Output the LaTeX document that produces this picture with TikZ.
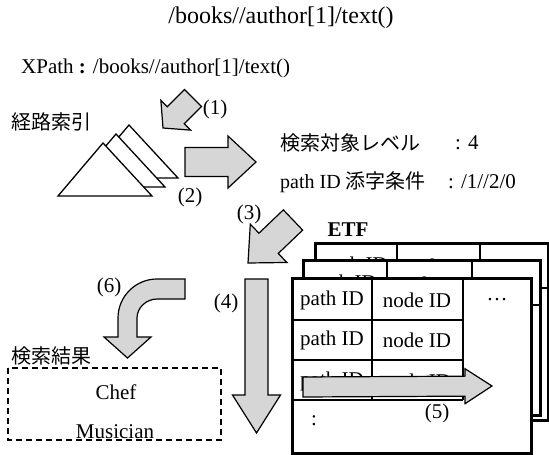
\documentclass[tikz,border=0pt]{standalone}
\usepackage{fontspec}
\setmainfont{Liberation Serif}
\newfontfamily\jp{Noto Sans CJK JP}
\usetikzlibrary{calc}

% block arrow: #1 tail centre, #2 tip, #3 half shaft width, #4 half head width, #5 head length
\newcommand\blockarrow[5]{%
  \coordinate (hb) at ($(#2)!#5!(#1)$);
  \path[blk] ($(#1)!#3!90:(#2)$) -- ($(hb)!#3!90:(#2)$) -- ($(hb)!#4!90:(#2)$)
    -- (#2) -- ($(hb)!#4!-90:(#2)$) -- ($(hb)!#3!-90:(#2)$) -- ($(#1)!#3!-90:(#2)$) -- cycle;
}

\begin{document}
\begin{tikzpicture}[x=1pt,y=-1pt,
  txt/.style={font=\fontsize{21}{24}\selectfont, inner sep=0pt},
  jtxt/.style={font=\fontsize{20}{24}\selectfont\jp, inner sep=0pt},
  blk/.style={draw=black, fill=black!16, line width=1.2pt, line join=miter},
  tri/.style={draw=black, fill=white, line width=1.3pt, line join=miter},
  frame/.style={draw=black, line width=3pt},
  grid/.style={draw=black, line width=1.3pt},
]
\useasboundingbox (0,0) rectangle (549,455);

% query text
\node[txt, font=\fontsize{24}{28}\selectfont] (title) at (281,18) {/books//author[1]/text()};
\node[txt, anchor=west] (xpath) at (21,68) {XPath \textbf{:} /books//author[1]/text()};

% path index: three stacked triangles
\path[tri] (129,125) -- (84,178) -- (178,178) -- cycle;
\path[tri] (116,134) -- (71,187) -- (165,187) -- cycle;
\path[tri] (103,143) -- (58,196) -- (152,196) -- cycle;
\node[jtxt] (pidx) at (51,122) {経路索引};

% arrow (1)
\coordinate (a1t) at (193,98);
\coordinate (a1h) at (163,128);
\blockarrow{a1t}{a1h}{12pt}{21pt}{18pt}
\node[txt] (l1) at (215,109) {(1)};

% arrow (2)
\coordinate (a2t) at (185,162);
\coordinate (a2h) at (256,162);
\blockarrow{a2t}{a2h}{14.5pt}{26pt}{28pt}
\node[txt] (l2) at (190,197) {(2)};

% search conditions
\node[jtxt, anchor=west] (lvl) at (280,143) {検索対象レベル};
\node[txt, anchor=west] (lvlv) at (455,143) {: 4};
\node[jtxt, anchor=west] (sub) at (280,182) {{\rmfamily path ID} 添字条件};
\node[txt, anchor=west] (subv) at (448,182) {: /1//2/0};

% arrow (3)
\coordinate (a3t) at (293,220);
\coordinate (a3h) at (248,263);
\blockarrow{a3t}{a3h}{14pt}{26.5pt}{28.5pt}
\node[txt] (l3) at (249,214) {(3)};

% arrow (4)
\coordinate (a4t) at (256.5,279);
\coordinate (a4h) at (256.5,433);
\blockarrow{a4t}{a4h}{11.5pt}{24pt}{38pt}
\node[txt] (l4) at (226,303) {(4)};

% ETF tables, back to front
\node[txt, font=\fontsize{21}{24}\selectfont\bfseries] (etf) at (348,230) {ETF};

\fill[white] (315,243) rectangle (548,420);
\draw[grid] (397,243) -- (397,288) (480,243) -- (480,288) (315,288) -- (548,288);
\node[txt] (p3) at (356,266) {path ID};
\node[txt] (n3) at (438,266) {node ID};
\draw[frame] (315,243) rectangle (548,420);

\fill[white] (303,260) rectangle (540,415);
\draw[grid] (387,260) -- (387,305) (472,260) -- (472,305) (303,305) -- (540,305);
\node[txt] (p2) at (345,284) {path ID};
\node[txt] (n2) at (430,284) {node ID};
\draw[frame] (303,260) rectangle (540,415);

\fill[white] (292,278) rectangle (531,453);
\draw[grid] (372,278) -- (372,400) (463,278) -- (463,400)
  (292,320) -- (463,320) (292,360) -- (463,360) (292,400) -- (463,400);
\node[txt] (p1a) at (332,300) {path ID};
\node[txt] (n1a) at (417,300) {node ID};
\node[txt] (d1a) at (497,300) {\ldots};
\node[txt] (p1b) at (332,340) {path ID};
\node[txt] (n1b) at (417,340) {node ID};
\node[txt] (p1c) at (332,381) {path ID};
\node[txt] (n1c) at (417,381) {node ID};
\node[txt] (c1d) at (314,421) {:};
\draw[frame] (292,278) rectangle (531,453);

% arrow (5)
\coordinate (a5t) at (303,387);
\coordinate (a5h) at (492,386);
\blockarrow{a5t}{a5h}{10pt}{17.5pt}{27pt}
\node[txt] (l5) at (437,413) {(5)};

% arrow (6), bent
\path[blk] (185,279) -- (157,279) .. controls (135.5,279) and (118,296.5) .. (118,318)
  -- (118,337) -- (104,337) -- (127.5,358) -- (151,337) -- (137,337) -- (137,318)
  .. controls (137,307.5) and (146.5,299) .. (157,299) -- (185,299) -- cycle;
\node[txt] (l6) at (109,287) {(6)};

% search result
\node[jtxt] (res) at (52,356) {検索結果};
\draw[line width=1.4pt, dash pattern=on 6pt off 4pt] (8,368) rectangle (221,440);
\node[txt] (chef) at (116,392) {Chef};
\node[txt] (mus) at (115,432) {Musician};
\end{tikzpicture}
\end{document}
